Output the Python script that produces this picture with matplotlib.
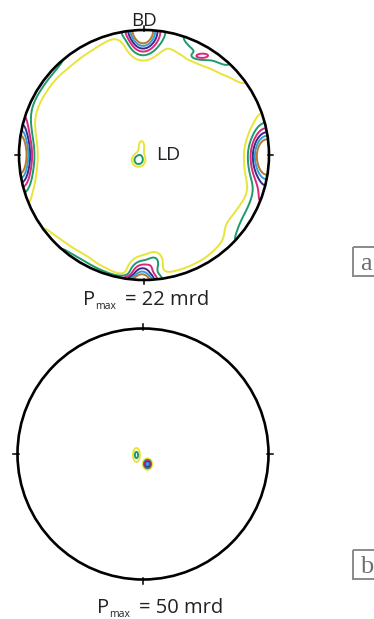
import numpy as np
import matplotlib
matplotlib.use('Agg')
import matplotlib.pyplot as plt
from matplotlib.patches import Circle, Rectangle

# ---------------- data ----------------
levels = [1, 2, 3, 4, 5, 6]
level_colors = ['#e8e43a', '#1f9a6b', '#d8287f', '#3d2a86', '#2e9fd9', '#b8792e']

# pole figure (a): girdle intensity along the rim (angle in degrees, rim value, radial width)
ring_theta = [0, 10, 20, 30, 40, 50, 60, 70, 80, 90, 100, 110,
              120, 130, 140, 150, 160, 170, 180, 190, 200, 210, 220, 230,
              240, 250, 260, 270, 280, 290, 300, 310, 320, 330, 340, 350]
ring_amp = [1.6, 1.2, 0.7, 0.6, 1.3, 2.31, 2.76, 2.1, 1.3, 1.0, 1.1, 1.2,
            1.6, 2.0, 2.21, 2.2, 2.13, 2.2, 2.2, 2.0, 0.8, 0.6, 1.2, 2.13,
            2.26, 2.28, 2.28, 2.0, 1.4, 1.4, 1.4, 1.7, 2.11, 2.52, 3.0, 2.5]
ring_width = [0.10, 0.08, 0.08, 0.08, 0.08, 0.093, 0.112, 0.12, 0.12, 0.08, 0.05, 0.083,
              0.072, 0.068, 0.056, 0.056, 0.057, 0.06, 0.07, 0.065, 0.06, 0.06, 0.05, 0.05,
              0.06, 0.039, 0.02, 0.03, 0.048, 0.048, 0.05, 0.058, 0.123, 0.103, 0.08, 0.10]

# pole figure (a): local maxima (x, y on unit circle, intensity, spread x, spread y)
peaks_a_x = [-0.01, 0.98, -1.00, -0.02, 0.09, 0.45, -0.044, -0.02]
peaks_a_y = [1.00, 0.00, 0.00, -1.00, -0.85, 0.79, -0.04, 0.07]
peaks_a_amp = [8.4, 7.5, 6.3, 6.0, 1.8, 1.6, 2.9, 1.4]
peaks_a_sx = [0.08, 0.085, 0.074, 0.07, 0.05, 0.05, 0.037, 0.025]
peaks_a_sy = [0.118, 0.13, 0.16, 0.10, 0.06, 0.018, 0.037, 0.05]

# pole figure (b): local maxima
peaks_b_x = [-0.052, 0.036]
peaks_b_y = [-0.008, -0.08]
peaks_b_amp = [2.4, 5.5]
peaks_b_sx = [0.021, 0.02]
peaks_b_sy = [0.042, 0.024]

pmax_a = 22
pmax_b = 50

# ---------------- figure ----------------
W, H = 374, 619
fig = plt.figure(figsize=(W / 100, H / 100), dpi=100)
plt.rcParams['font.family'] = ['Open Sans', 'DejaVu Sans']

g = np.linspace(-1.1, 1.1, 441)
U, V = np.meshgrid(g, g)
Rr = np.hypot(U, V)
TH = np.degrees(np.arctan2(V, U)) % 360


def peak_field(xs, ys, amps, sxs, sys_):
    F = np.zeros_like(U)
    for x, y, a, sx, sy in zip(xs, ys, amps, sxs, sys_):
        F += a * np.exp(-((U - x) ** 2) / (2 * sx ** 2) - ((V - y) ** 2) / (2 * sy ** 2))
    return F


def ring_field(thetas, amps, widths, sig=5.0):
    num = np.zeros_like(U)
    den = np.zeros_like(U)
    for t, a, w in zip(thetas, amps, widths):
        d = (TH - t + 180) % 360 - 180
        wt = np.exp(-d ** 2 / (2 * sig ** 2))
        num += wt * a * np.exp(-((1 - Rr) ** 2) / (2 * w ** 2))
        den += wt
    return num / den


def pole_axes(cx, cy, R, L=1.2):
    size = 2 * L * R
    ax = fig.add_axes([(cx - L * R) / W, (H - cy - L * R) / H, size / W, size / H])
    ax.set_xlim(-L, L)
    ax.set_ylim(-L, L)
    ax.set_aspect('equal')
    ax.axis('off')
    return ax


def draw_pole(ax, F):
    clip = Circle((0, 0), 1.0, transform=ax.transData)
    cs = ax.contour(U, V, F, levels=levels, colors=level_colors, linewidths=1.4)
    cs.set_clip_path(clip)
    ax.add_patch(Circle((0, 0), 1.0, fill=False, ec='black', lw=1.9, zorder=5))
    for ang in [0, 90, 180, 270]:
        c, s = np.cos(np.radians(ang)), np.sin(np.radians(ang))
        ax.plot([0.99 * c, 1.035 * c], [0.99 * s, 1.035 * s], color='black', lw=1.1, zorder=5)


Fa = ring_field(ring_theta, ring_amp, ring_width) + peak_field(peaks_a_x, peaks_a_y, peaks_a_amp,
                                                               peaks_a_sx, peaks_a_sy)
Fb = peak_field(peaks_b_x, peaks_b_y, peaks_b_amp, peaks_b_sx, peaks_b_sy)

ax1 = pole_axes(144, 155, 125)
draw_pole(ax1, Fa)
ax1.text(0, 1.07, 'BD', ha='center', va='center', fontsize=13.5, color='#222222')
ax1.text(0.095, 0.0, 'LD', ha='left', va='center', fontsize=14, color='#222222')

ax2 = pole_axes(143, 454, 125.5)
draw_pole(ax2, Fb)

# overlay in pixel coordinates for labels
ov = fig.add_axes([0, 0, 1, 1], zorder=10)
ov.set_xlim(0, W)
ov.set_ylim(H, 0)
ov.axis('off')
ov.patch.set_alpha(0)


def pmax_label(x0, base, value):
    ov.text(x0, base, 'P', fontsize=14.5, ha='left', va='baseline', color='#222222')
    ov.text(x0 + 12, base + 4, 'max', fontsize=7.5, ha='left', va='baseline', color='#222222')
    ov.text(x0 + 42, base, '= %d mrd' % value, fontsize=14.5, ha='left', va='baseline',
            color='#222222')


pmax_label(83, 305, pmax_a)
pmax_label(97, 613, pmax_b)

for top, lab in [(247, 'a'), (550, 'b')]:
    ov.add_patch(Rectangle((353, top), 40, 29, fill=False, ec='#8a8a8a', lw=1.4, clip_on=False))
    ov.text(360, top + 23, lab, fontsize=19, ha='left', va='baseline', color='#707070',
            family=['Liberation Serif', 'DejaVu Serif'])

fig.savefig('out.png', dpi=100)
